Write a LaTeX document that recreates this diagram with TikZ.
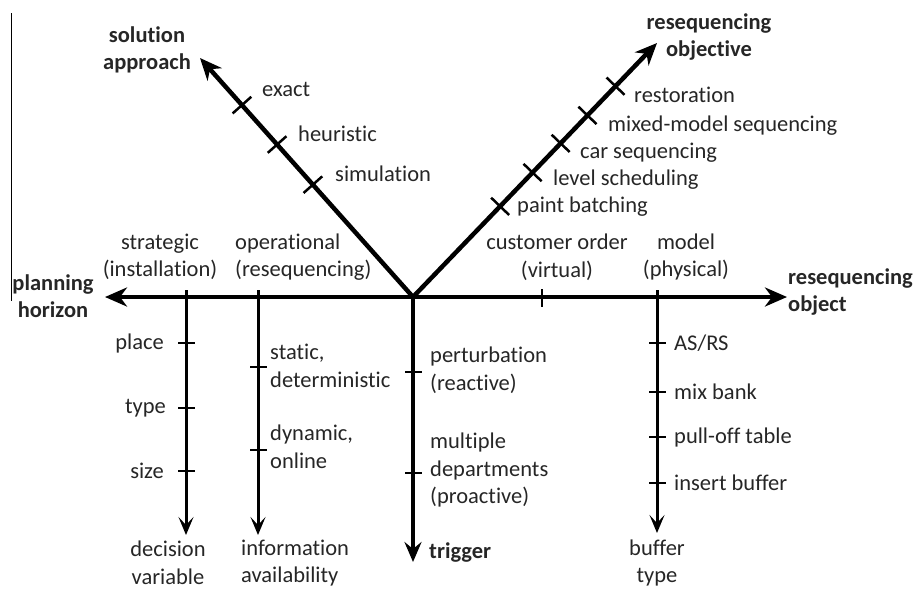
\documentclass[tikz,border=0pt]{standalone}
\usepackage{fontspec}
\setmainfont{Carlito}[Ligatures=NoCommon]
\usetikzlibrary{arrows.meta,calc}

\begin{document}
\begin{tikzpicture}[x=1pt,y=-1pt,
    axis/.style={line width=4.5pt},
    branch/.style={line width=3pt,-{Stealth[length=18pt,width=15pt,inset=8pt]}},
    tick/.style={line width=2.5pt},
    lbl/.style={inner sep=0pt,font=\fontsize{22.5}{27.5}\selectfont,text=black!85},
    ttl/.style={lbl,font=\fontsize{22.5}{27.5}\selectfont\bfseries,align=center}]
    \useasboundingbox (0,0) rectangle (917,590);

    % main axes
    \coordinate (hub) at (413,297);
    \coordinate (saTip) at (200,58);
    \coordinate (roTip) at (657,43);
    \coordinate (phTip) at (105,297);
    \coordinate (objTip) at (787,297);
    \coordinate (trgTip) at (413,562);
    \draw[axis,{Stealth[length=22pt,width=19pt,inset=7pt]}-{Stealth[length=22pt,width=19pt,inset=7pt]}] (saTip) -- (hub) -- (roTip);
    \draw[axis,-{Stealth[length=22pt,width=19pt,inset=7pt]}] (hub) -- (phTip);
    \draw[axis,-{Stealth[length=22pt,width=19pt,inset=7pt]}] (hub) -- (objTip);
    \draw[axis,-{Stealth[length=20pt,width=17pt,inset=7pt]}] (hub) -- (trgTip);
    \draw[line width=1pt] (11,13) -- (11,301);

    \node[ttl] (sa) at (147,50) {solution\\approach};
    \node[ttl] (ro) at (709,37) {resequencing\\objective};
    \node[ttl] (ph) at (53,296) {planning\\horizon};
    \node[ttl,align=left,anchor=west] (rob) at (788,292) {resequencing\\object};
    \node[ttl,anchor=west] (trg) at (429,552) {trigger};

    % solution approach
    \foreach \f in {0.47,0.638,0.803} {
        \coordinate (t) at ($(hub)!\f!(saTip)$);
        \draw[tick] ($(t)!12.5pt!90:(saTip)$) -- ($(t)!12.5pt!-90:(saTip)$);
    }
    \node[lbl,anchor=west] (exact) at (262,89) {exact};
    \node[lbl,anchor=west] (heur) at (298,134) {heuristic};
    \node[lbl,anchor=west] (simu) at (335,174) {simulation};

    % resequencing objective
    \foreach \f in {0.357,0.49,0.605,0.715,0.83} {
        \coordinate (t) at ($(hub)!\f!(roTip)$);
        \draw[tick] ($(t)!12.5pt!90:(roTip)$) -- ($(t)!12.5pt!-90:(roTip)$);
    }
    \node[lbl,anchor=west] (resto) at (634,95) {restoration};
    \node[lbl,anchor=west] (mms) at (608,126) {mixed-model sequencing};
    \node[lbl,anchor=west] (cars) at (580,153) {car sequencing};
    \node[lbl,anchor=west] (lvl) at (553,180) {level scheduling};
    \node[lbl,anchor=west] (paint) at (517,207) {paint batching};

    % planning horizon
    \node[lbl,align=center] (strat) at (160,257) {strategic\\(installation)};
    \node[lbl,align=left,anchor=west] (oper) at (235,257) {operational\\(resequencing)};
    \coordinate (dvTop) at (186,290);
    \coordinate (dvEnd) at (186,535);
    \coordinate (iaTop) at (258,290);
    \coordinate (iaEnd) at (258,535);
    \draw[branch] (dvTop) -- (dvEnd);
    \draw[branch] (iaTop) -- (iaEnd);
    \foreach \y in {343,408,471}
        \draw[tick] (178,\y) -- (195,\y);
    \foreach \y in {367,450}
        \draw[tick] (250,\y) -- (267,\y);
    \node[lbl,anchor=east] (place) at (164,343) {place};
    \node[lbl,anchor=east] (type) at (166,408) {type};
    \node[lbl,anchor=east] (size) at (164,471) {size};
    \node[lbl,align=left,anchor=west] (stat) at (270,366) {static,\\deterministic};
    \node[lbl,align=left,anchor=west] (dyn) at (270,447) {dynamic,\\online};
    \node[lbl,align=center] (dv) at (168,563) {decision\\variable};
    \node[lbl,align=left,anchor=west] (ia) at (241,563) {information\\availability};

    % trigger
    \foreach \y in {372,473}
        \draw[tick] (405,\y) -- (422,\y);
    \node[lbl,align=left,anchor=west] (pert) at (430,370) {perturbation\\(reactive)};
    \node[lbl,align=left,anchor=west] (mult) at (430,470) {multiple\\departments\\(proactive)};

    % resequencing object
    \node[lbl,align=center] (cust) at (557,257) {customer order\\(virtual)};
    \node[lbl,align=center] (mdl) at (686,257) {model\\(physical)};
    \draw[tick] (542,289) -- (542,307);
    \coordinate (btTop) at (657,290);
    \coordinate (btEnd) at (657,533);
    \draw[branch] (btTop) -- (btEnd);
    \foreach \y in {343,392,437,483}
        \draw[tick] (649,\y) -- (666,\y);
    \node[lbl,anchor=west] (asrs) at (674,343) {AS/RS};
    \node[lbl,anchor=west] (mix) at (674,392) {mix bank};
    \node[lbl,anchor=west] (pull) at (674,437) {pull-off table};
    \node[lbl,anchor=west] (ins) at (674,483) {insert buffer};
    \node[lbl,align=center] (bt) at (657,563) {buffer\\type};
\end{tikzpicture}
\end{document}
